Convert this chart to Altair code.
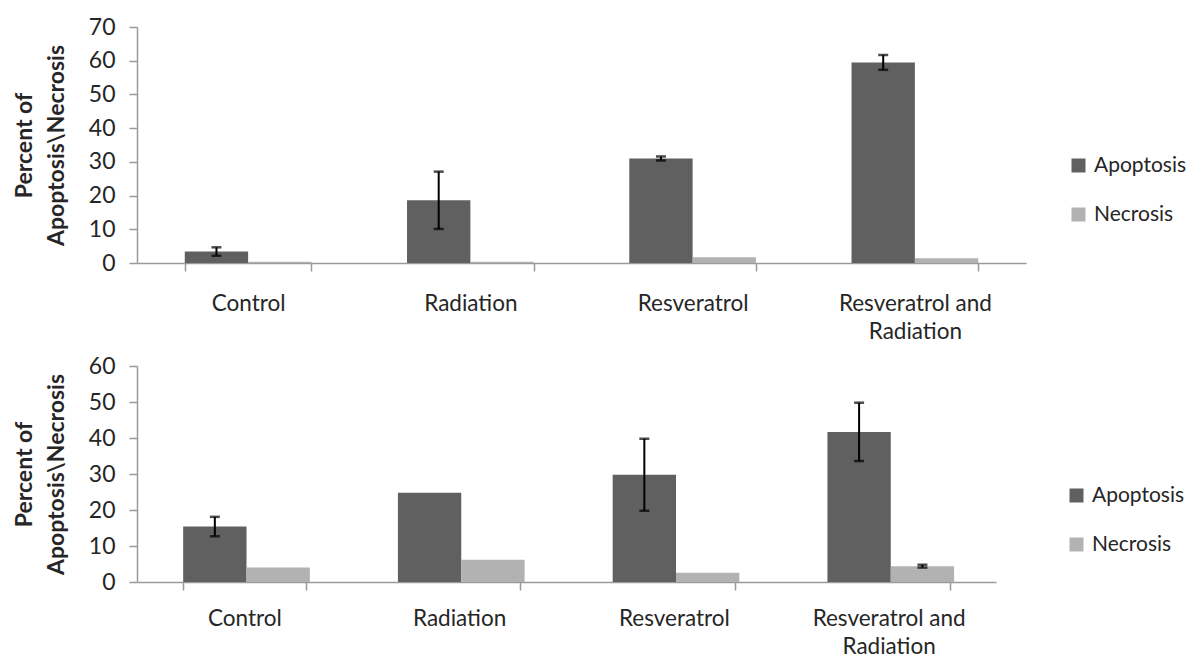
import altair as alt
import pandas as pd

categories = ["Control", "Radiation", "Resveratrol", "Resveratrol and Radiation"]
series = ["Apoptosis", "Necrosis"]
colors = ["#606060", "#b2b2b2"]

top_apoptosis = [3.4, 18.6, 31.0, 59.5]
top_apoptosis_err = [1.25, 8.5, 0.6, 2.2]
top_necrosis = [0.4, 0.4, 1.7, 1.4]
top_necrosis_err = [0, 0, 0, 0]

bottom_apoptosis = [15.4, 24.8, 29.8, 41.7]
bottom_apoptosis_err = [2.7, 0, 10.0, 8.1]
bottom_necrosis = [4.0, 6.2, 2.6, 4.4]
bottom_necrosis_err = [0, 0, 0, 0.4]

FONT = "Lato"


def panel(apop, apop_err, necro, necro_err, ymax, width, height, leg_x, leg_y, row_pad, lab_pad):
    rows, err_rows = [], []
    for s, vals, errs in (("Apoptosis", apop, apop_err), ("Necrosis", necro, necro_err)):
        for c, v, e in zip(categories, vals, errs):
            rows.append({"cat": c, "series": s, "value": v})
            if e > 0:
                err_rows.append({"cat": c, "series": s, "lo": v - e, "hi": v + e})
    df = pd.DataFrame(rows)
    edf = pd.DataFrame(err_rows)

    xscale = alt.Scale(domain=categories, paddingInner=0.43, paddingOuter=0.215)
    xaxis = alt.Axis(
        title=None,
        labelAngle=0,
        tickBand="extent",
        tickSize=8,
        labelPadding=lab_pad,
        labelExpr="datum.label == 'Resveratrol and Radiation' ? ['Resveratrol and', 'Radiation'] : datum.label",
    )
    x = alt.X("cat:N", scale=xscale, axis=xaxis)
    xo = alt.XOffset("series:N", scale=alt.Scale(domain=series, paddingInner=0, paddingOuter=0))
    yscale = alt.Scale(domain=[0, ymax], nice=False)
    yaxis = alt.Axis(
        values=list(range(0, ymax + 1, 10)),
        labelOverlap=False,
        title=["Percent of", "Apoptosis\\Necrosis"],
        tickSize=8,
        labelPadding=14,
        titlePadding=20,
    )

    bars = alt.Chart(df).mark_bar().encode(
        x=x,
        xOffset=xo,
        y=alt.Y("value:Q", scale=yscale, axis=yaxis),
        color=alt.Color(
            "series:N",
            scale=alt.Scale(domain=series, range=colors),
            legend=alt.Legend(
                title=None,
                orient="none",
                legendX=leg_x,
                legendY=leg_y,
                symbolType="square",
                symbolSize=196,
                symbolStrokeWidth=0,
                rowPadding=row_pad,
                labelFontSize=21,
                labelFont=FONT,
                labelColor="#262626",
                labelOffset=5,
                padding=0,
            ),
        ),
    )
    rule = alt.Chart(edf).mark_rule(color="black", strokeWidth=2).encode(
        x=x, xOffset=xo, y=alt.Y("lo:Q", scale=yscale, axis=yaxis), y2="hi:Q"
    )
    cap_lo = alt.Chart(edf).mark_tick(color="black", thickness=2.5, size=10).encode(
        x=x, xOffset=xo, y=alt.Y("lo:Q", scale=yscale, axis=yaxis)
    )
    cap_hi = alt.Chart(edf).mark_tick(color="black", thickness=2.5, size=10).encode(
        x=x, xOffset=xo, y=alt.Y("hi:Q", scale=yscale, axis=yaxis)
    )
    return alt.layer(bars, rule, cap_lo, cap_hi).properties(width=width, height=height)


top = panel(top_apoptosis, top_apoptosis_err, top_necrosis, top_necrosis_err,
            70, 889, 236, 931, 128, 27, 21)
bottom = panel(bottom_apoptosis, bottom_apoptosis_err, bottom_necrosis, bottom_necrosis_err,
               60, 859, 216, 929, 119, 27, 17)

chart = (
    alt.vconcat(top, bottom, spacing=12)
    .resolve_legend(color="independent")
    .resolve_scale(color="independent", x="independent", y="independent")
    .properties(padding={"top": 8, "left": 5, "right": 2, "bottom": 0})
    .configure_view(stroke=None)
    .configure_axis(
        labelFont=FONT,
        titleFont=FONT,
        labelFontSize=23,
        labelColor="#262626",
        titleFontSize=23,
        titleFontWeight="bold",
        titleColor="#262626",
        titleLineHeight=32,
        labelLineHeight=28,
        domainColor="#9a9a9a",
        tickColor="#9a9a9a",
        domainWidth=1.5,
        tickWidth=1.5,
        grid=False,
    )
    .configure_axisX(labelFontSize=22.5)
)

chart.save("out.html", embed_options={"renderer": "svg", "actions": False})
